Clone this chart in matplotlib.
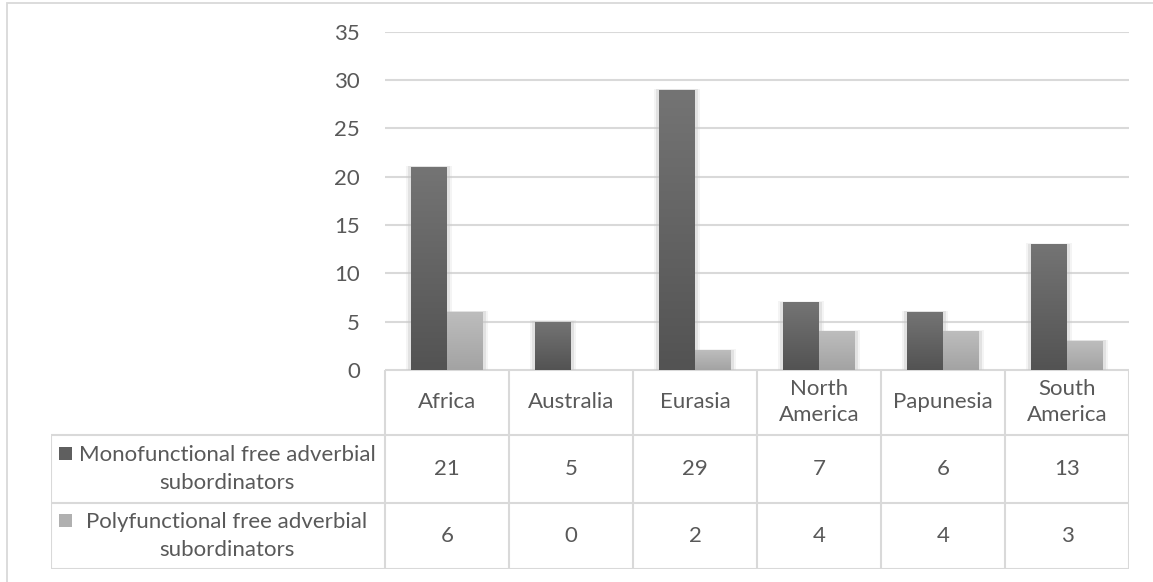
import numpy as np
import matplotlib.pyplot as plt
from matplotlib.patches import Rectangle

plt.rcParams['font.family'] = ['Lato', 'DejaVu Sans']

regioes = ['Africa', 'Australia', 'Eurasia', 'North\nAmerica', 'Papunesia', 'South\nAmerica']
mono = [21, 5, 29, 7, 6, 13]
poly = [6, 0, 2, 4, 4, 3]
series_names = ['Monofunctional free adverbial\nsubordinators',
                'Polyfunctional free adverbial\nsubordinators']
yticks = [0, 5, 10, 15, 20, 25, 30, 35]

W, H = 1153, 582
cor_texto = '#595959'
cor_grade = '#d9d9d9'
fs = 16

fig = plt.figure(figsize=(W / 100, H / 100), dpi=100)

# moldura externa (so aparece em cima e a esquerda)
fig.patches.append(Rectangle((7 / W, -0.1), 1.2, 1.1 - 2.5 / H, transform=fig.transFigure,
                             fill=False, edgecolor=cor_grade, lw=1.3))

# eixo das barras, em pixels
x0, x1 = 385, 1129
y_zero, y_top = 369.8, 31.7
ax = fig.add_axes([x0 / W, 1 - y_zero / H, (x1 - x0) / W, (y_zero - y_top) / H])
ax.set_xlim(0, 6)
ax.set_ylim(0, 35)
ax.set_yticks(yticks)
ax.set_xticks([])
ax.tick_params(axis='y', length=0, pad=18, labelsize=fs, labelcolor=cor_texto)
for s in ax.spines.values():
    s.set_visible(False)
ax.grid(axis='y', color=cor_grade, lw=1.5)
ax.set_axisbelow(True)
ax.patch.set_alpha(0)

largura = 0.29
grad = np.linspace(0, 1, 100).reshape(-1, 1)


def barra(x, h, top, bottom):
    if h <= 0:
        return
    # sombra suave
    for pad, a in [(0.04, 0.2), (0.022, 0.4)]:
        ax.add_patch(Rectangle((x - pad, 0), largura + 2 * pad, h + pad * 35 / 6 * 0.5,
                               facecolor='#c8c8c8', alpha=a, lw=0, zorder=2))
    r = Rectangle((x, 0), largura, h, facecolor='none', lw=0, zorder=3)
    ax.add_patch(r)
    cmap = plt.matplotlib.colors.LinearSegmentedColormap.from_list('g', [bottom, top])
    im = ax.imshow(grad, extent=(x, x + largura, 0, h), origin='lower', cmap=cmap,
                   aspect='auto', zorder=3, interpolation='bilinear')
    im.set_clip_path(r)


for i in range(len(regioes)):
    c = i + 0.5
    barra(c - largura, mono[i], '#747474', '#535353')
    barra(c, poly[i], '#bdbdbd', '#a3a3a3')
ax.set_xlim(0, 6)
ax.set_ylim(0, 35)

# tabela de dados abaixo do grafico
t_left, t_bottom = 51, 569
leg_w = (x0 - t_left) / ((x1 - x0) / 6)
tb = fig.add_axes([t_left / W, 1 - t_bottom / H, (x1 - t_left) / W, (t_bottom - y_zero) / H])
tb.set_xlim(-leg_w, 6)
tb.set_ylim(t_bottom, y_zero)
tb.axis('off')

linhas = [y_zero, 435, 503, t_bottom]
kw = dict(color=cor_grade, lw=1.5, solid_capstyle='butt')
tb.plot([0, 6], [y_zero, y_zero], **kw)
for y in linhas[1:]:
    tb.plot([-leg_w, 6], [y, y], **kw)
tb.plot([-leg_w, -leg_w], [linhas[1], t_bottom], **kw)
for k in range(7):
    tb.plot([k, k], [y_zero, t_bottom], **kw)

for i, nome in enumerate(regioes):
    tb.text(i + 0.5, (linhas[0] + linhas[1]) / 2, nome, ha='center', va='center',
            fontsize=fs, color=cor_texto, linespacing=1.38)
    tb.text(i + 0.5, (linhas[1] + linhas[2]) / 2, str(mono[i]), ha='center', va='center',
            fontsize=fs, color=cor_texto)
    tb.text(i + 0.5, (linhas[2] + linhas[3]) / 2, str(poly[i]), ha='center', va='center',
            fontsize=fs, color=cor_texto)

# nomes das series com marcadores
px = (x1 - x0) / 6
cx = (227 - x0) / px
for j, (nome, cor) in enumerate(zip(series_names, ['#5f5f5f', '#b0b0b0'])):
    ymid = (linhas[j + 1] + linhas[j + 2]) / 2
    tb.text(cx, ymid, nome, ha='center', va='center', fontsize=fs,
            color=cor_texto, linespacing=1.5)
    tb.add_patch(Rectangle(((59 - x0) / px, ymid - 21.5), 13 / px, 13, facecolor=cor, lw=0))

fig.savefig('out.png', dpi=100)
